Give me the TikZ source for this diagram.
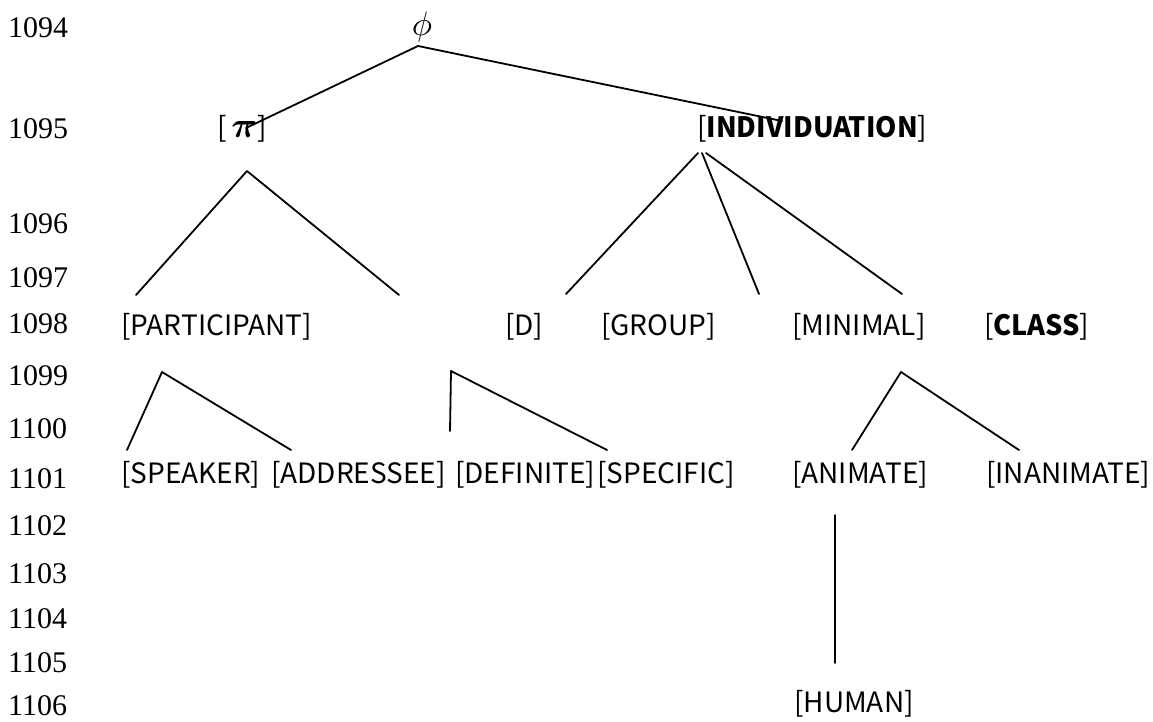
\documentclass[tikz,border=0pt]{standalone}
\usepackage{amsmath}
\usepackage{graphicx}
\usepackage{fontspec}
\setmainfont{Liberation Serif}
\newfontfamily\featfont[BoldFeatures={FakeStretch=0.97}]{Noto Sans CJK JP}
\newcommand\bigpi{{\fontsize{10}{12}\selectfont\scalebox{3.6}{$\boldsymbol{\pi}$}}}
\begin{document}
\begin{tikzpicture}[x=1pt,y=-1pt,
  num/.style={font=\fontsize{30}{32}\selectfont, anchor=west, inner sep=0pt},
  feat/.style={font=\featfont\fontsize{28}{30}\selectfont, anchor=base west, inner sep=0pt},
  branch/.style={line width=1.8pt, line cap=round, line join=round}]
\useasboundingbox (0,0) rectangle (1153,722);

% line numbers
\foreach \n/\y in {1094/28,1095/129,1096/224,1097/278,1098/324,1099/376,1100/429,1101/479,
                   1102/526,1103/574,1104/619,1105/663,1106/706}
  \node[num] (ln\n) at (8,\y) {\n};

% feature labels (positions are baselines)
\node[inner sep=0pt] (phi) at (422,27) {\fontsize{10}{12}\selectfont\scalebox{3.4}{$\phi$}};
\node[feat] (pi) at (217,138) {[\,\bigpi]};
\node[feat] (indiv) at (697,138) {[\textbf{INDIVIDUATION}]};

\node[feat] (part) at (121,335) {[PARTICIPANT]};
\node[feat] (d) at (505,335) {[D]};
\node[feat] (group) at (601,335) {[GROUP]};
\node[feat] (minimal) at (792,335) {[MINIMAL]};
\node[feat] (class) at (984,335) {[\textbf{CLASS}]};

\node[feat] (speaker) at (121,483) {[SPEAKER]};
\node[feat] (addr) at (271,483) {[ADDRESSEE]};
\node[feat] (def) at (455,483) {[DEFINITE]};
\node[feat] (spec) at (597,483) {[SPECIFIC]};
\node[feat] (anim) at (792,483) {[ANIMATE]};
\node[feat] (inanim) at (986,483) {[INANIMATE]};
\node[feat] (human) at (794,712) {[HUMAN]};

% branch points
\coordinate (phiTop) at (418,46);
\coordinate (phiL) at (246,128);
\coordinate (phiR) at (782,121);
\coordinate (piTop) at (247,171);
\coordinate (piL) at (136,295);
\coordinate (piR) at (399,295);
\coordinate (indA) at (698,153);
\coordinate (indB) at (702,153);
\coordinate (indC) at (706,153);
\coordinate (indL) at (566,294);
\coordinate (indM) at (759,294);
\coordinate (indR) at (902,294);
\coordinate (partTop) at (162,372);
\coordinate (partL) at (127,450);
\coordinate (partR) at (291,450);
\coordinate (dTop) at (451,371);
\coordinate (dDown) at (450,431);
\coordinate (dR) at (607,450);
\coordinate (minTop) at (901,372);
\coordinate (minL) at (852,450);
\coordinate (minR) at (1019,450);
\coordinate (animTop) at (835,515);
\coordinate (animBot) at (835,663);

% branches
\draw[branch] (phiL) -- (phiTop) -- (phiR);
\draw[branch] (piL) -- (piTop) -- (piR);
\draw[branch] (indA) -- (indL);
\draw[branch] (indB) -- (indM);
\draw[branch] (indC) -- (indR);
\draw[branch] (partL) -- (partTop) -- (partR);
\draw[branch] (dDown) -- (dTop) -- (dR);
\draw[branch] (minL) -- (minTop) -- (minR);
\draw[branch] (animTop) -- (animBot);
\end{tikzpicture}
\end{document}
